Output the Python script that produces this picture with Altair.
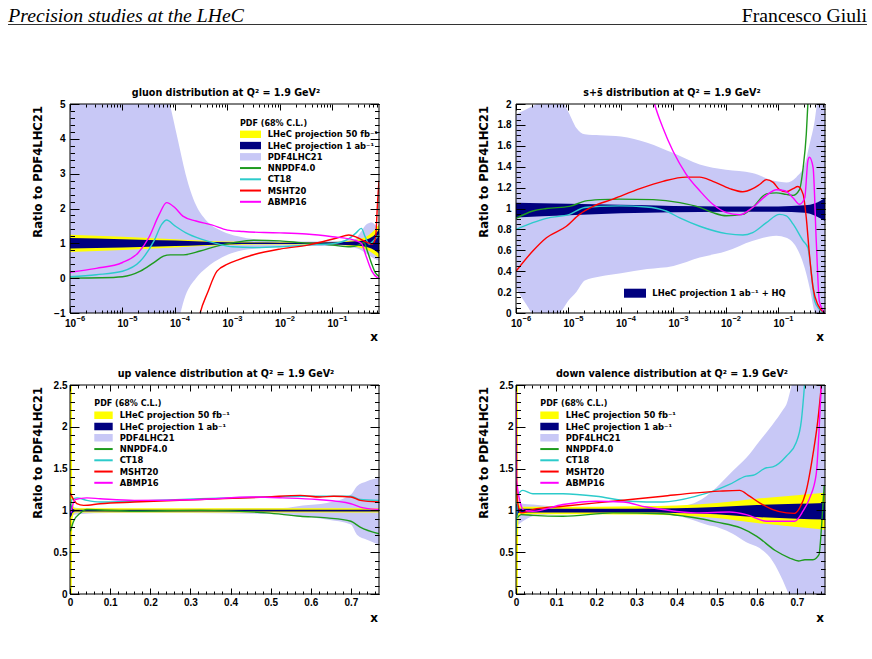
import altair as alt
import pandas as pd

# ---------------------------------------------------------------------------
# panel geometry / styling
# ---------------------------------------------------------------------------
W, H = 309, 209
SANS = "Liberation Sans"
BOLD = "DejaVu Sans"
SERIF = "Liberation Serif"

C_BAND = "#c8c8f6"
C_50 = "#ffff00"
C_1AB = "#00007f"
C_NN = "#1e9b1e"
C_CT = "#2ccbcb"
C_MS = "#ff0000"
C_AB = "#ff00ff"

# ---------------------------------------------------------------------------
# gluon ratio to PDF4LHC21 (x given as log10 x)
# ---------------------------------------------------------------------------
glu_band_lgx = [-6.0, -4.3, -4.1, -3.95, -3.8, -3.6, -3.4, -3.1, -2.8, -2.4, -2.0, -1.5, -1.0, -0.6, -0.45, -0.35, -0.25, -0.15, -0.114]
glu_band_hi = [6.5, 6.0, 5.0, 4.0, 3.0, 2.1, 1.65, 1.35, 1.2, 1.1, 1.06, 1.05, 1.06, 1.1, 1.35, 1.55, 1.6, 1.5, 1.5]
glu_band_lo = [-2.0, -2.0, -2.0, -1.3, -0.5, 0.0, 0.3, 0.6, 0.77, 0.86, 0.9, 0.92, 0.92, 0.88, 0.8, 0.7, 0.6, 0.52, 0.5]

glu_lhec_lgx = [-6.0, -5.0, -4.0, -3.0, -2.0, -1.0, -0.5, -0.3, -0.2, -0.114]
glu_50_hi = [1.25, 1.19, 1.12, 1.05, 1.03, 1.04, 1.12, 1.25, 1.38, 1.55]
glu_50_lo = [0.75, 0.81, 0.88, 0.95, 0.97, 0.96, 0.88, 0.78, 0.68, 0.58]
glu_1ab_hi = [1.15, 1.12, 1.08, 1.03, 1.02, 1.03, 1.07, 1.14, 1.24, 1.4]
glu_1ab_lo = [0.85, 0.88, 0.92, 0.97, 0.98, 0.97, 0.93, 0.87, 0.8, 0.7]

glu_nn_lgx = [-6.0, -5.4, -5.0, -4.66, -4.41, -4.22, -4.09, -3.84, -3.52, -3.2, -2.88, -2.5, -2.0, -1.6, -1.0, -0.66, -0.5, -0.4, -0.33, -0.25, -0.18, -0.114]
glu_nn = [0.0, 0.01, 0.04, 0.2, 0.44, 0.63, 0.67, 0.67, 0.78, 0.92, 1.02, 1.09, 1.07, 1.02, 0.95, 0.9, 0.95, 1.02, 0.75, 0.4, 0.15, 0.05]

glu_ct_lgx = [-6.0, -5.5, -5.0, -4.66, -4.4, -4.25, -4.16, -4.0, -3.8, -3.5, -3.2, -2.9, -2.5, -2.0, -1.5, -1.0, -0.7, -0.55, -0.45, -0.38, -0.3, -0.2, -0.114]
glu_ct = [0.04, 0.1, 0.2, 0.49, 1.07, 1.55, 1.67, 1.5, 1.31, 1.12, 0.99, 0.9, 0.88, 0.9, 0.95, 0.99, 1.12, 1.3, 1.43, 1.2, 0.98, 1.1, 1.25]

glu_ms_lgx = [-3.6, -3.52, -3.38, -3.2, -3.0, -2.81, -2.49, -1.98, -1.47, -0.9, -0.69, -0.52, -0.33, -0.24, -0.18, -0.14, -0.114]
glu_ms = [-1.6, -1.0, -0.42, 0.2, 0.4, 0.52, 0.68, 0.84, 0.95, 1.16, 1.24, 1.16, 1.02, 0.98, 1.15, 2.2, 2.8]

glu_ab_lgx = [-6.0, -5.5, -5.0, -4.7, -4.5, -4.3, -4.16, -4.0, -3.85, -3.6, -3.3, -3.0, -2.7, -2.3, -2.0, -1.5, -1.0, -0.6, -0.45, -0.35, -0.25, -0.15, -0.114]
glu_ab = [0.17, 0.28, 0.45, 0.73, 1.16, 1.83, 2.17, 2.02, 1.78, 1.64, 1.53, 1.38, 1.34, 1.31, 1.30, 1.27, 1.19, 1.1, 1.0, 0.59, 0.2, 0.02, 0.0]

# ---------------------------------------------------------------------------
# s + sbar ratio (log10 x)
# ---------------------------------------------------------------------------
s_band_lgx = [-6.0, -5.8, -5.6, -5.4, -5.17, -5.0, -4.85, -4.69, -4.4, -4.0, -3.5, -3.0, -2.5, -2.0, -1.5, -1.04, -0.85, -0.66, -0.5, -0.41, -0.31, -0.25, -0.114]
s_band_hi = [1.90, 1.95, 2.0, 2.05, 2.05, 1.92, 1.77, 1.71, 1.70, 1.69, 1.63, 1.53, 1.42, 1.37, 1.34, 1.26, 1.25, 1.30, 1.42, 1.61, 1.84, 2.05, 2.2]
s_band_lo = [0.24, 0.08, -0.05, -0.05, 0.0, 0.12, 0.2, 0.31, 0.35, 0.38, 0.42, 0.45, 0.53, 0.59, 0.69, 0.74, 0.72, 0.63, 0.43, 0.25, 0.0, -0.1, -0.2]

s_lhec_lgx = [-6.0, -5.0, -4.0, -3.0, -2.0, -1.0, -0.5, -0.3, -0.114]
s_1ab_hi = [1.055, 1.045, 1.035, 1.025, 1.02, 1.02, 1.03, 1.05, 1.1]
s_1ab_lo = [0.915, 0.935, 0.955, 0.965, 0.97, 0.97, 0.96, 0.93, 0.88]

s_nn_lgx = [-6.0, -5.68, -5.42, -4.98, -4.69, -4.4, -4.03, -3.39, -2.88, -2.5, -2.25, -1.99, -1.68, -1.49, -1.23, -1.04, -0.85, -0.72, -0.6, -0.53, -0.47, -0.44, -0.4]
s_nn = [0.906, 0.976, 1.0, 1.02, 1.07, 1.085, 1.09, 1.085, 1.056, 1.01, 0.96, 0.93, 0.944, 1.01, 1.14, 1.15, 1.135, 1.126, 1.18, 1.39, 1.71, 2.0, 2.3]

s_ct_lgx = [-6.0, -5.68, -5.42, -4.98, -4.69, -4.4, -4.03, -3.52, -3.14, -2.88, -2.5, -1.99, -1.68, -1.49, -1.23, -0.98, -0.85, -0.72, -0.53, -0.44, -0.37, -0.31, -0.22, -0.114]
s_ct = [0.80, 0.864, 0.906, 0.944, 1.01, 1.02, 1.025, 1.015, 0.976, 0.91, 0.83, 0.76, 0.746, 0.77, 0.865, 0.944, 0.93, 0.85, 0.69, 0.625, 0.37, 0.115, 0.035, 0.0]

s_ms_lgx = [-6.0, -5.68, -5.42, -5.04, -4.79, -4.53, -4.15, -3.64, -3.2, -2.76, -2.5, -2.25, -1.93, -1.68, -1.49, -1.36, -1.23, -1.1, -0.98, -0.85, -0.72, -0.63, -0.53, -0.47, -0.41, -0.34, -0.25, -0.114]
s_ms = [0.40, 0.593, 0.72, 0.83, 0.944, 1.02, 1.09, 1.19, 1.26, 1.30, 1.30, 1.26, 1.19, 1.16, 1.19, 1.23, 1.276, 1.25, 1.18, 1.16, 1.19, 1.21, 1.135, 0.91, 0.56, 0.24, 0.08, 0.0]

s_ab_lgx = [-3.52, -3.36, -3.2, -3.01, -2.76, -2.5, -2.25, -1.99, -1.74, -1.49, -1.23, -1.04, -0.88, -0.72, -0.6, -0.5, -0.44, -0.41, -0.34, -0.28, -0.22, -0.114]
s_ab = [2.35, 2.0, 1.77, 1.55, 1.33, 1.17, 1.04, 0.96, 0.94, 1.01, 1.126, 1.18, 1.17, 1.10, 1.04, 1.10, 1.455, 1.49, 1.39, 0.69, 0.11, 0.0]

# ---------------------------------------------------------------------------
# up valence ratio (linear x)
# ---------------------------------------------------------------------------
uv_band_x = [0.0, 0.02, 0.1, 0.3, 0.45, 0.53, 0.58, 0.64, 0.70, 0.715, 0.74, 0.77]
uv_band_hi = [1.06, 1.03, 1.02, 1.02, 1.03, 1.03, 1.06, 1.09, 1.19, 1.29, 1.35, 1.39]
uv_band_lo = [0.94, 0.955, 0.97, 0.97, 0.96, 0.95, 0.93, 0.89, 0.83, 0.71, 0.65, 0.59]

uv_lhec_x = [0.0, 0.004, 0.006, 0.012, 0.77]
uv_50_hi = [2.7, 2.7, 1.1, 1.025, 1.025]
uv_50_lo = [-0.2, -0.2, 0.9, 0.975, 0.975]
uv_1ab_hi = [1.08, 1.06, 1.03, 1.008, 1.008]
uv_1ab_lo = [0.92, 0.94, 0.97, 0.988, 0.988]

uv_nn_x = [0.001, 0.009, 0.026, 0.042, 0.075, 0.16, 0.325, 0.49, 0.574, 0.64, 0.70, 0.723, 0.77]
uv_nn = [0.75, 0.87, 0.97, 1.01, 1.005, 0.99, 1.0, 0.97, 0.93, 0.91, 0.87, 0.80, 0.72]

uv_ct_x = [0.001, 0.005, 0.017, 0.042, 0.075, 0.16, 0.325, 0.49, 0.574, 0.70, 0.723, 0.77]
uv_ct = [1.0, 1.13, 1.15, 1.12, 1.10, 1.11, 1.14, 1.16, 1.17, 1.17, 1.13, 1.12]

uv_ms_x = [0.0, 0.009, 0.017, 0.034, 0.075, 0.16, 0.325, 0.49, 0.574, 0.623, 0.657, 0.70, 0.723, 0.77]
uv_ms = [1.21, 1.13, 1.08, 1.06, 1.08, 1.10, 1.13, 1.16, 1.18, 1.16, 1.17, 1.16, 1.12, 1.10]

uv_ab_x = [0.002, 0.013, 0.042, 0.075, 0.16, 0.325, 0.45, 0.53, 0.616, 0.70, 0.723, 0.77]
uv_ab = [0.97, 1.13, 1.15, 1.14, 1.12, 1.13, 1.16, 1.15, 1.13, 1.08, 1.04, 1.01]

# ---------------------------------------------------------------------------
# down valence ratio (linear x)
# ---------------------------------------------------------------------------
dv_band_x = [0.0, 0.017, 0.042, 0.12, 0.24, 0.37, 0.424, 0.45, 0.474, 0.507, 0.54, 0.557, 0.574, 0.607, 0.64, 0.665, 0.674, 0.69, 0.72, 0.77]
dv_band_hi = [1.11, 1.08, 1.07, 1.04, 1.03, 1.04, 1.06, 1.1, 1.17, 1.31, 1.47, 1.55, 1.63, 1.83, 2.03, 2.2, 2.27, 2.55, 2.8, 2.8]
dv_band_lo = [0.81, 0.87, 0.93, 0.96, 0.97, 0.95, 0.91, 0.87, 0.83, 0.79, 0.72, 0.67, 0.62, 0.55, 0.39, 0.16, 0.06, -0.1, -0.2, -0.2]

dv_lhec_x = [0.0, 0.004, 0.006, 0.012, 0.1, 0.2, 0.3, 0.4, 0.5, 0.6, 0.7, 0.77]
dv_50_hi = [2.7, 2.7, 1.1, 1.045, 1.045, 1.045, 1.05, 1.06, 1.09, 1.14, 1.18, 1.21]
dv_50_lo = [-0.2, -0.2, 0.9, 0.955, 0.955, 0.955, 0.95, 0.94, 0.91, 0.85, 0.8, 0.77]
dv_1ab_hi = [1.08, 1.06, 1.03, 1.02, 1.02, 1.02, 1.02, 1.025, 1.04, 1.065, 1.08, 1.09]
dv_1ab_lo = [0.92, 0.94, 0.97, 0.975, 0.975, 0.975, 0.975, 0.97, 0.955, 0.92, 0.9, 0.89]

dv_nn_x = [0.0025, 0.013, 0.042, 0.117, 0.242, 0.366, 0.42, 0.46, 0.5, 0.56, 0.6, 0.646, 0.682, 0.704, 0.72, 0.74, 0.755, 0.762, 0.768]
dv_nn = [0.91, 0.95, 0.94, 0.93, 0.97, 0.96, 0.93, 0.90, 0.86, 0.79, 0.69, 0.52, 0.43, 0.395, 0.41, 0.41, 0.47, 0.85, 1.3]

dv_ct_x = [0.0, 0.005, 0.017, 0.042, 0.117, 0.2, 0.283, 0.366, 0.449, 0.491, 0.532, 0.574, 0.591, 0.624, 0.640, 0.674, 0.698, 0.711, 0.719, 0.725]
dv_ct = [0.71, 1.19, 1.24, 1.2, 1.2, 1.17, 1.11, 1.10, 1.17, 1.23, 1.31, 1.41, 1.42, 1.51, 1.52, 1.65, 1.81, 2.07, 2.5, 2.9]

dv_ms_x = [0.0, 0.005, 0.013, 0.042, 0.117, 0.242, 0.366, 0.449, 0.507, 0.557, 0.582, 0.607, 0.640, 0.674, 0.694, 0.707, 0.723, 0.740, 0.752, 0.761, 0.768]
dv_ms = [1.39, 1.07, 0.97, 1.01, 1.05, 1.11, 1.17, 1.21, 1.23, 1.24, 1.17, 1.09, 1.01, 0.97, 0.965, 1.03, 1.23, 1.67, 2.07, 2.5, 2.9]

dv_ab_x = [0.0, 0.002, 0.008, 0.02, 0.042, 0.117, 0.2, 0.267, 0.325, 0.366, 0.449, 0.532, 0.574, 0.624, 0.657, 0.694, 0.715, 0.732, 0.748, 0.761, 0.766]
dv_ab = [2.6, 1.35, 1.15, 1.0, 0.99, 1.07, 1.11, 1.10, 1.04, 1.01, 0.97, 0.98, 0.95, 0.87, 0.87, 0.87, 0.99, 1.15, 1.43, 2.5, 2.9]

# ---------------------------------------------------------------------------
# axis tick values
# ---------------------------------------------------------------------------
LOG_MAJ = [1e-6, 1e-5, 1e-4, 1e-3, 1e-2, 1e-1]
LOG_MIN = [k * 10.0 ** e for e in range(-6, 0) for k in range(2, 10) if k * 10.0 ** e < 0.77]
LIN_XMAJ = [0, 0.1, 0.2, 0.3, 0.4, 0.5, 0.6, 0.7]
LIN_XMIN = [i / 50 for i in range(0, 39)]
GLU_YMAJ = [-1, 0, 1, 2, 3, 4, 5]
GLU_YMIN = [i / 5 - 1 for i in range(0, 31)]
S_YMAJ = [0, 0.2, 0.4, 0.6, 0.8, 1, 1.2, 1.4, 1.6, 1.8, 2]
S_YMIN = [i / 20 for i in range(0, 41)]
V_YMAJ = [0, 0.5, 1, 1.5, 2, 2.5]
V_YMIN = [i / 10 for i in range(0, 26)]

LEG_LABELS = ["LHeC projection 50 fb⁻¹", "LHeC projection 1 ab⁻¹", "PDF4LHC21",
              "NNPDF4.0", "CT18", "MSHT20", "ABMP16"]
LEG_COLORS = [C_50, C_1AB, C_BAND, C_NN, C_CT, C_MS, C_AB]

ONE = pd.DataFrame({"k": [0]})


def table(xs, cols, log):
    d = {"x": [10.0 ** v for v in xs] if log else list(xs)}
    d.update(cols)
    return pd.DataFrame(d)


def txt(s, x, y, size, font=BOLD, weight="bold", align="left", baseline="middle",
        angle=None, style="normal", color="black"):
    kw = dict(text=s, fontSize=size, font=font, fontWeight=weight, align=align,
              baseline=baseline, color=color, fontStyle=style)
    if angle is not None:
        kw["angle"] = angle
    return alt.Chart(ONE).mark_text(**kw).encode(x=alt.value(x), y=alt.value(y))


def box(x0, x1, y0, y1, color, **kw):
    return alt.Chart(ONE).mark_rect(color=color, **kw).encode(
        x=alt.value(x0), x2=alt.value(x1), y=alt.value(y0), y2=alt.value(y1))


def seg(x0, x1, y, color, width):
    return alt.Chart(ONE).mark_rule(color=color, strokeWidth=width).encode(
        x=alt.value(x0), x2=alt.value(x1), y=alt.value(y))


def legend(xs0, xs1, xt, yhead, y0, step):
    parts = [txt("PDF (68% C.L.)", xs0, yhead, 8)]
    for i, (lab, col) in enumerate(zip(LEG_LABELS, LEG_COLORS)):
        yc = y0 + i * step
        if i < 3:
            parts.append(box(xs0, xs1, yc - 3.7, yc + 3.7, col))
        else:
            parts.append(seg(xs0, xs1, yc, col, 2))
        parts.append(txt(lab, xt, yc, 8.4))
    return parts


def tax(orient, values, size, **kw):
    base = dict(orient=orient, values=values, tickSize=size, offset=-size, domain=False,
                grid=False, ticks=True, tickColor="black", tickWidth=1, title=None,
                zindex=1, labels=False)
    base.update(kw)
    return alt.Axis(**base)


LBL = dict(labels=True, labelFont=SANS, labelFontWeight="bold", labelFontSize=10,
           labelColor="black", labelFlush=False, labelOverlap=False)


def panel(log, ydom, xmaj, xmin_, ymaj, ymin_, bands, curves, title, extras):
    if log:
        xsc = alt.Scale(type="log", domain=[1e-6, 0.77], nice=False)
    else:
        xsc = alt.Scale(domain=[0, 0.77], nice=False, zero=False)
    ysc = alt.Scale(domain=ydom, nice=False, zero=False)
    layers = []
    for xs, lo, hi, col in bands:
        layers.append(
            alt.Chart(table(xs, {"lo": lo, "hi": hi}, log))
            .mark_area(color=col, clip=True, interpolate="monotone")
            .encode(x=alt.X("x:Q", scale=xsc, axis=None),
                    y=alt.Y("lo:Q", scale=ysc, axis=None), y2="hi:Q"))
    for xs, vs, col in curves:
        layers.append(
            alt.Chart(table(xs, {"v": vs}, log))
            .mark_line(color=col, strokeWidth=1.4, clip=True, interpolate="monotone")
            .encode(x=alt.X("x:Q", scale=xsc, axis=None),
                    y=alt.Y("v:Q", scale=ysc, axis=None)))

    pt = pd.DataFrame({"x": [xmaj[0]], "v": [ymaj[0]]})

    def carrier(xa, ya=None):
        enc = {"x": alt.X("x:Q", scale=xsc, axis=xa)}
        if ya is not None:
            enc["y"] = alt.Y("v:Q", scale=ysc, axis=ya)
        return alt.Chart(pt).mark_point(opacity=0).encode(**enc)

    xfmt = "'10'" if log else "format(datum.value, '~g')"
    yfmt = "format(datum.value, '~g')"
    xpad = 5 if log else 3
    ypad = 5 if log else 3
    layers.append(carrier(tax("bottom", xmaj, 6, labelExpr=xfmt, labelPadding=xpad, **LBL),
                          tax("left", ymaj, 9, labelExpr=yfmt, labelPadding=ypad, **LBL)))
    layers.append(carrier(tax("bottom", xmin_, 3), tax("left", ymin_, 4.5)))
    layers.append(carrier(tax("top", xmaj, 6), tax("right", ymaj, 9)))
    layers.append(carrier(tax("top", xmin_, 3), tax("right", ymin_, 4.5)))
    if log:
        layers.append(carrier(alt.Axis(
            orient="bottom", values=xmaj, ticks=False, domain=False, grid=False,
            title=None, labels=True, labelExpr="'−' + (-round(log(datum.value) / LN10))",
            labelFont=SANS, labelFontWeight="bold", labelFontSize=7.5, labelColor="black",
            labelAlign="left", labelOffset=6, labelPadding=1.5,
            labelFlush=False, labelOverlap=False)))

    layers.append(box(0, W, 0, H, "black", fillOpacity=0, stroke="black", strokeWidth=1))
    layers.append(txt(title, 156, -11.5, 9.6, align="center"))
    layers.append(txt("x", 304, 233, 12, align="center"))
    layers.append(txt("Ratio to PDF4LHC21", -28.5, 2, 11.6, align="right",
                      baseline="alphabetic", angle=270))
    layers.extend(extras)
    return alt.layer(*layers).resolve_axis(x="independent", y="independent").properties(
        width=W, height=H)


# page header and canvas extent, placed relative to the first panel
header = [
    box(-69, 801, -103, 549, "white", opacity=0),
    txt("Precision studies at the LHeC", -61.7, -82.5, 19.7, font=SERIF, weight="normal",
        style="italic", baseline="alphabetic"),
    txt("Francesco Giuli", 797, -82.5, 19.7, font=SERIF, weight="normal", align="right",
        baseline="alphabetic"),
    seg(-62, 797, -79.5, "#333333", 1),
]

p1 = panel(
    True, [-1, 5], LOG_MAJ, LOG_MIN, GLU_YMAJ, GLU_YMIN,
    [(glu_band_lgx, glu_band_lo, glu_band_hi, C_BAND),
     (glu_lhec_lgx, glu_50_lo, glu_50_hi, C_50),
     (glu_lhec_lgx, glu_1ab_lo, glu_1ab_hi, C_1AB)],
    [(glu_nn_lgx, glu_nn, C_NN), (glu_ct_lgx, glu_ct, C_CT),
     (glu_ms_lgx, glu_ms, C_MS), (glu_ab_lgx, glu_ab, C_AB)],
    "gluon distribution at Q² = 1.9 GeV²",
    header + legend(170, 191, 197.7, 20.3, 30.3, 11.25))

p2 = panel(
    True, [0, 2], LOG_MAJ, LOG_MIN, S_YMAJ, S_YMIN,
    [(s_band_lgx, s_band_lo, s_band_hi, C_BAND),
     (s_lhec_lgx, s_1ab_lo, s_1ab_hi, C_1AB)],
    [(s_nn_lgx, s_nn, C_NN), (s_ct_lgx, s_ct, C_CT),
     (s_ms_lgx, s_ms, C_MS), (s_ab_lgx, s_ab, C_AB)],
    "s+s̄ distribution at Q² = 1.9 GeV²",
    [box(108, 130, 184.7, 193.7, C_1AB),
     txt("LHeC projection 1 ab⁻¹ + HQ", 136.3, 189.2, 8.4)])

p3 = panel(
    False, [0, 2.5], LIN_XMAJ, LIN_XMIN, V_YMAJ, V_YMIN,
    [(uv_band_x, uv_band_lo, uv_band_hi, C_BAND),
     (uv_lhec_x, uv_50_lo, uv_50_hi, C_50),
     (uv_lhec_x, uv_1ab_lo, uv_1ab_hi, C_1AB)],
    [(uv_nn_x, uv_nn, C_NN), (uv_ct_x, uv_ct, C_CT),
     (uv_ms_x, uv_ms, C_MS), (uv_ab_x, uv_ab, C_AB)],
    "up valence distribution at Q² = 1.9 GeV²",
    legend(24.3, 42.7, 49.7, 19.3, 30.3, 11.25))

p4 = panel(
    False, [0, 2.5], LIN_XMAJ, LIN_XMIN, V_YMAJ, V_YMIN,
    [(dv_band_x, dv_band_lo, dv_band_hi, C_BAND),
     (dv_lhec_x, dv_50_lo, dv_50_hi, C_50),
     (dv_lhec_x, dv_1ab_lo, dv_1ab_hi, C_1AB)],
    [(dv_nn_x, dv_nn, C_NN), (dv_ct_x, dv_ct, C_CT),
     (dv_ms_x, dv_ms, C_MS), (dv_ab_x, dv_ab, C_AB)],
    "down valence distribution at Q² = 1.9 GeV²",
    legend(24.3, 42.7, 49.7, 19.3, 30.3, 11.25))

chart = alt.concat(
    p1, p2, p3, p4, columns=2, spacing={"row": 72, "column": 137}, bounds="flush"
).properties(padding=0).configure_view(stroke="transparent")

chart.save("out.html", embed_options={"renderer": "svg", "actions": False})
